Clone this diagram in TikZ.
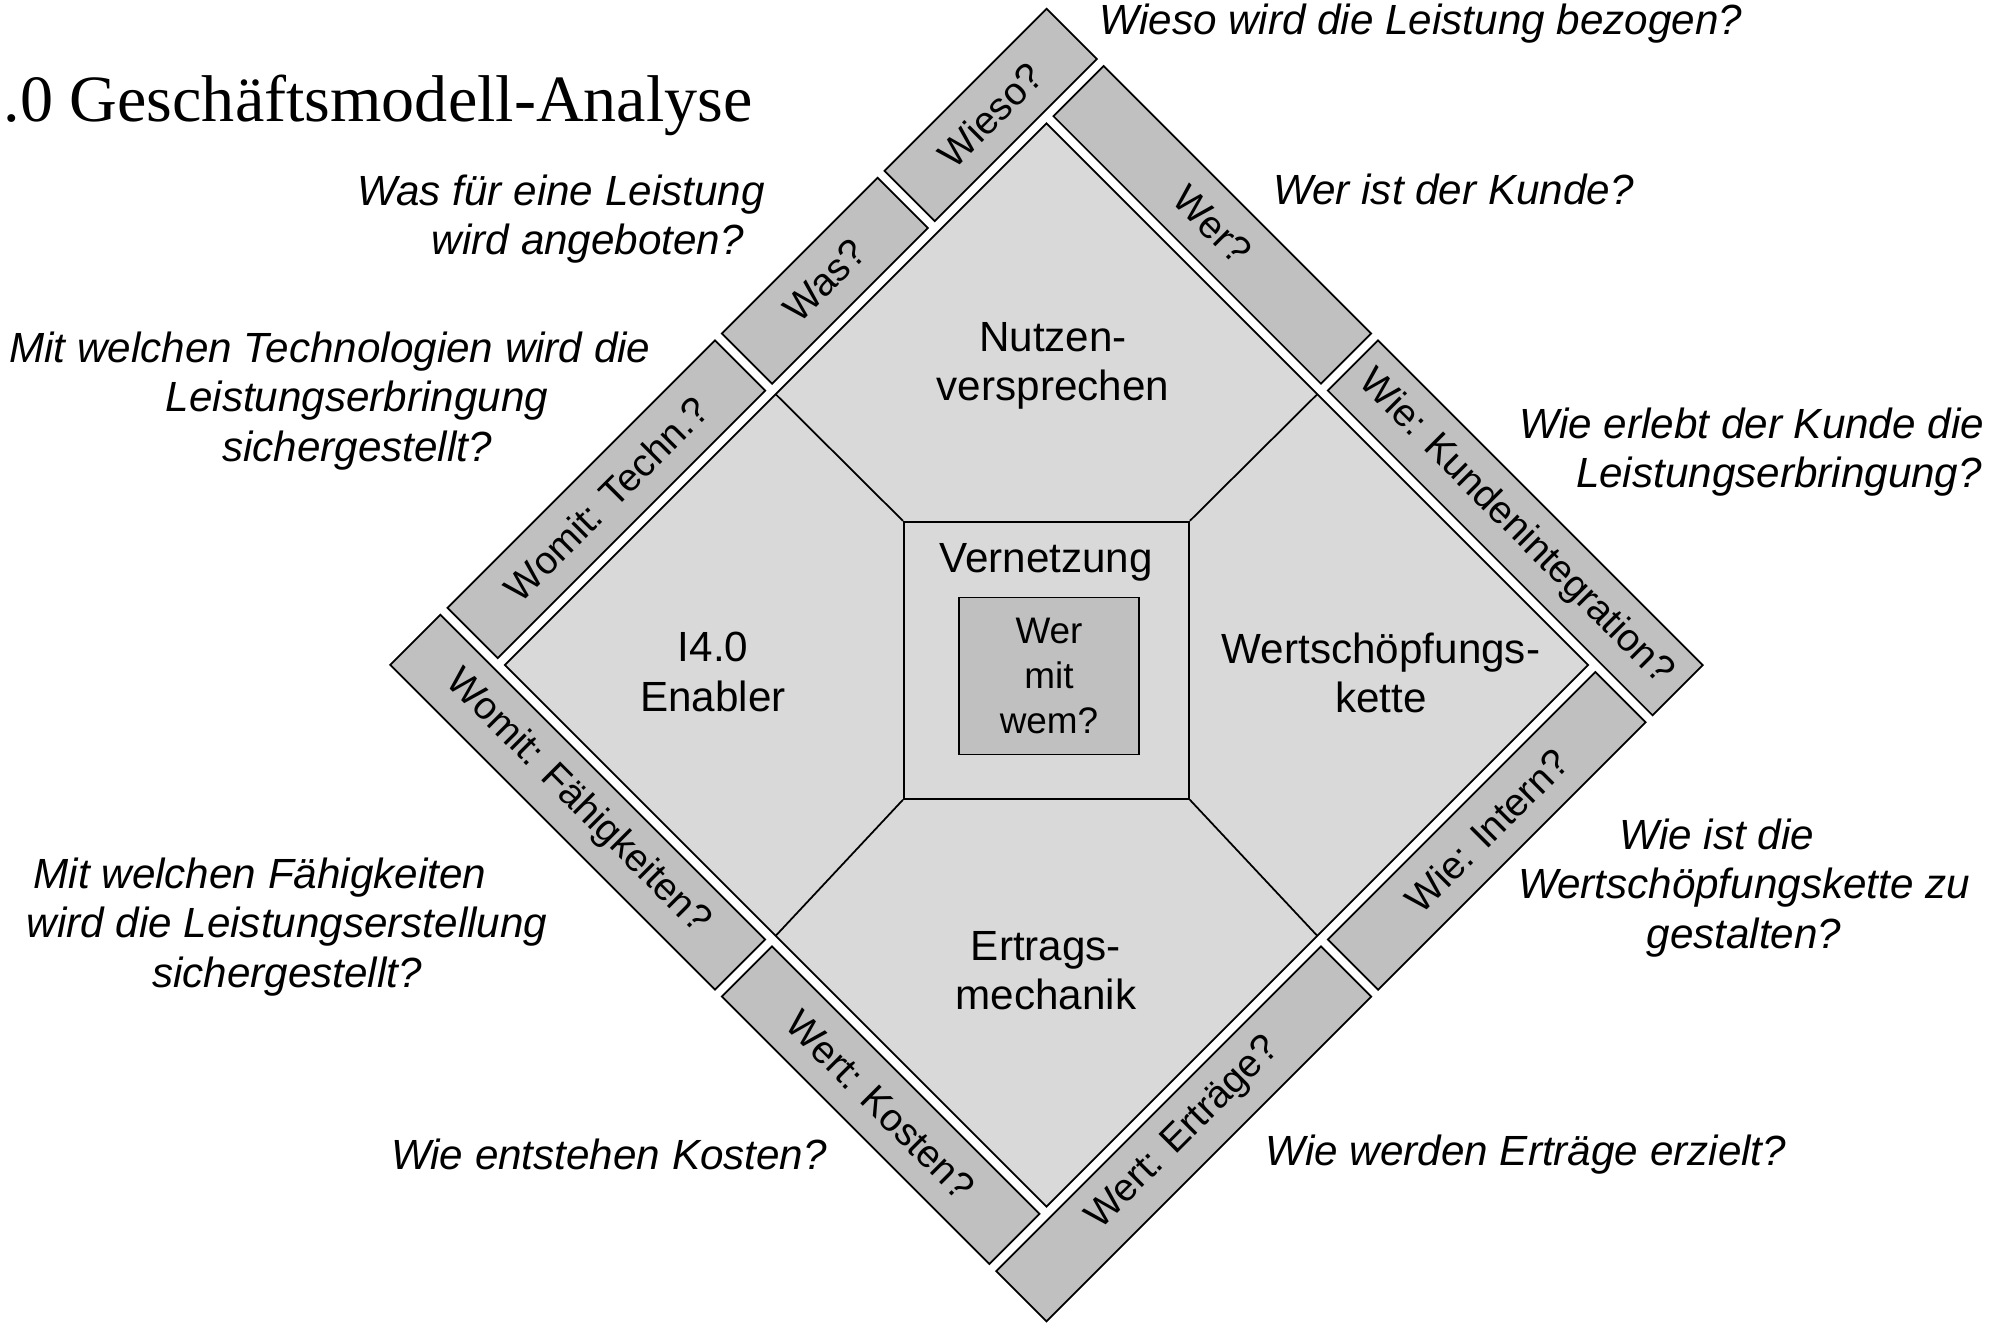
\documentclass[tikz,border=0pt]{standalone}
\usepackage{fontspec}
\setmainfont{Liberation Sans}
\newfontfamily\titlefont{Liberation Serif}
\definecolor{bargray}{HTML}{C0C0C0}
\definecolor{fieldgray}{HTML}{D9D9D9}
\newcommand{\firstpad}{\hspace*{0.54cm}}

\begin{document}
\begin{tikzpicture}[x=0.01cm,y=-0.01cm,
	bar/.style={draw,fill=bargray,line width=0.5pt,inner sep=0pt,minimum height=0.71cm,font=\fontsize{11}{13}\selectfont},
	field/.style={align=center,font=\fontsize{12}{14}\selectfont},
	question/.style={align=center,font=\fontsize{12}{14}\selectfont\itshape},
	divider/.style={line width=0.5pt}]
	
	\useasboundingbox (0,0) rectangle (1990,1326);
	
	% Parameters
	\def\halfside{383}  % half side of the tilted square
	\def\barpos{428.5}  % distance of the bar axis from the centre
	
	% Title
	\node[anchor=base west,inner sep=0pt,font=\titlefont\fontsize{18.8}{22}\selectfont] (title) at (3,121) {.0 Geschäftsmodell-Analyse};
	
	% Tilted square with the bars round it
	\begin{scope}[shift={(1046.5,665)},rotate=45]
		\draw[fill=fieldgray,line width=0.5pt] (-\halfside,-\halfside) rectangle (\halfside,\halfside);
		
		% Middle of each edge
		\coordinate (ul) at (0,-\halfside);
		\coordinate (ur) at (\halfside,0);
		\coordinate (lr) at (0,\halfside);
		\coordinate (ll) at (-\halfside,0);
		
		% Upper left side
		\node[bar,rotate=45,minimum width=3.78cm] (techn) at (-194,-\barpos) {Womit: Techn.?};
		\node[bar,rotate=45,minimum width=2.20cm] (was) at (115,-\barpos) {Was?};
		\node[bar,rotate=45,minimum width=2.29cm] (wieso) at (349.5,-\barpos) {Wieso?};
		
		% Upper right side
		\node[bar,rotate=-45,minimum width=3.78cm] (wer) at (\barpos,-194) {Wer?};
		\node[bar,rotate=-45,minimum width=4.59cm] (kunde) at (\barpos,234.5) {Wie: Kundenintegration?};
		
		% Lower right side
		\node[bar,rotate=45,minimum width=3.78cm] (intern) at (194,\barpos) {Wie: Intern?};
		\node[bar,rotate=45,minimum width=4.59cm] (ertraege) at (-234.5,\barpos) {Wert: Erträge?};
		
		% Lower left side
		\node[bar,rotate=-45,minimum width=3.78cm] (kosten) at (-\barpos,194) {Wert: Kosten?};
		\node[bar,rotate=-45,minimum width=4.59cm] (faehig) at (-\barpos,-234.5) {Womit: Fähigkeiten?};
	\end{scope}
	
	% Centre square and dividers
	\node[draw,fill=fieldgray,line width=0.5pt,minimum width=2.85cm,minimum height=2.77cm] (netz) at (1046.4,660.3) {};
	\draw[divider] (netz.north west) -- (ul);
	\draw[divider] (netz.north east) -- (ur);
	\draw[divider] (netz.south east) -- (lr);
	\draw[divider] (netz.south west) -- (ll);
	
	\node[field] (vernetzung) at (1046,562) {Vernetzung};
	\node[draw,fill=bargray,line width=0.5pt,minimum width=1.80cm,minimum height=1.57cm,align=center,font=\fontsize{10.5}{12.9}\selectfont] (wem) at (1049,676) {Wer\\mit\\wem?};
	
	% Fields
	\node[field] (nutzen) at (1053,366) {Nutzen-\\versprechen};
	\node[field] (enabler) at (713,672) {I4.0\\Enabler};
	\node[field] (kette) at (1381,673) {Wertschöpfungs-\\kette};
	\node[field] (mechanik) at (1046,971) {Ertrags-\\mechanik};
	
	% Questions
	\node[question] (q-wieso) at (1421,24) {Wieso wird die Leistung bezogen?};
	\node[question] (q-was) at (588,219) {Was für eine Leistung\firstpad\\wird angeboten?};
	\node[question] (q-techn) at (357,401) {Mit welchen Technologien wird die\firstpad\\Leistungserbringung\\sichergestellt?};
	\node[question] (q-wer) at (1453.5,189) {Wer ist der Kunde?};
	\node[question] (q-kunde) at (1779,452) {Wie erlebt der Kunde die\firstpad\\Leistungserbringung?};
	\node[question] (q-faehig) at (287,927) {Mit welchen Fähigkeiten\firstpad\\wird die Leistungserstellung\\sichergestellt?};
	\node[question] (q-intern) at (1744,888) {Wie ist die\firstpad\\Wertschöpfungskette zu\\gestalten?};
	\node[question] (q-kosten) at (609,1154) {Wie entstehen Kosten?};
	\node[question] (q-ertrag) at (1526,1155) {Wie werden Erträge erzielt?};
	
\end{tikzpicture}
\end{document}
